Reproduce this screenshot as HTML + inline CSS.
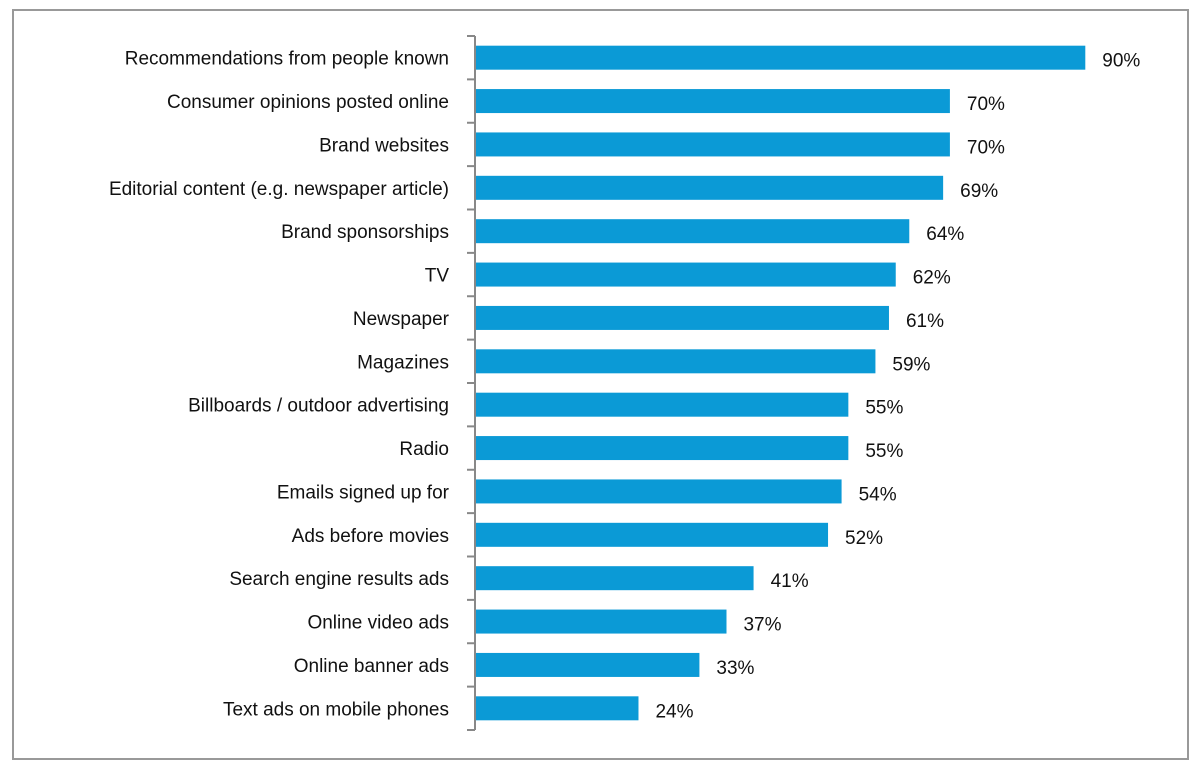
<!DOCTYPE html>
<html><head><meta charset="utf-8"><style>
html,body{margin:0;padding:0;background:#fff;width:1200px;height:775px;overflow:hidden}
svg{display:block}
text{font-family:"Liberation Sans",sans-serif;font-size:19px;fill:#111}
</style></head><body>
<svg id="chart" width="1200" height="775">
<rect x="13" y="10" width="1175" height="749" fill="#fff" stroke="#999" stroke-width="2"/>
<g id="bars"></g>
</svg>
<script>
const categories=["Recommendations from people known","Consumer opinions posted online","Brand websites","Editorial content (e.g. newspaper article)","Brand sponsorships","TV","Newspaper","Magazines","Billboards / outdoor advertising","Radio","Emails signed up for","Ads before movies","Search engine results ads","Online video ads","Online banner ads","Text ads on mobile phones"];
const values=[90,70,70,69,64,62,61,59,55,55,54,52,41,37,33,24];
const valueLabels=["90%","70%","70%","69%","64%","62%","61%","59%","55%","55%","54%","52%","41%","37%","33%","24%"];
const NS="http://www.w3.org/2000/svg";
const g=document.getElementById('bars');
const x0=476, k=6.77, plotTop=36, plotBottom=730;
const band=(plotBottom-plotTop)/categories.length;
const xs=v=>x0+v*k;
const ys=i=>plotTop+band*i;
function mk(t,a){const e=document.createElementNS(NS,t);for(const n in a)e.setAttribute(n,a[n]);g.appendChild(e);return e;}
const axis=mk('line',{x1:475,y1:plotTop,x2:475,y2:plotBottom,stroke:'#888','stroke-width':2});


for(let i=0;i<=categories.length;i++){
 const t=mk('line',{x1:467,y1:ys(i),x2:475,y2:ys(i),stroke:'#888','stroke-width':2});
 
 
}
categories.forEach((c,i)=>{
 const cy=ys(i)+band/2;
 const r=mk('rect',{x:x0,y:cy-12,width:xs(values[i])-x0,height:24,fill:'#0b9ad6'});
 
 
 const l=mk('text',{x:449,y:cy+7,'text-anchor':'end'});
 l.textContent=c;
 
 
 const v=mk('text',{x:xs(values[i])+17,y:cy+9});
 v.textContent=valueLabels[i];
 
 
});
</script>
</body></html>
